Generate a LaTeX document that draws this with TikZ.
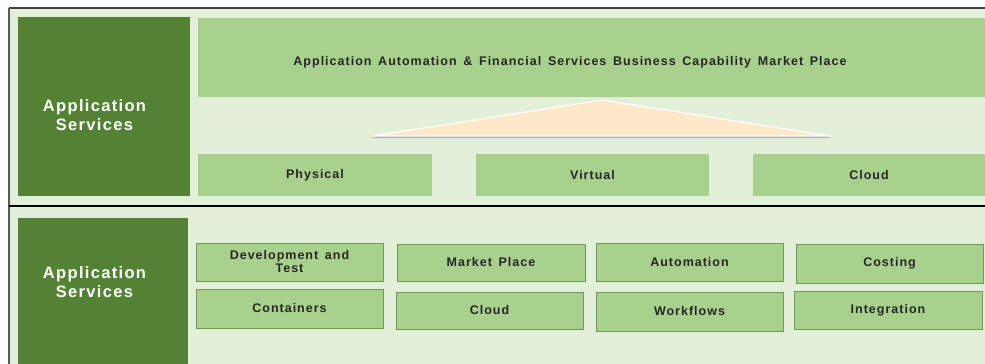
\documentclass[tikz,border=0pt]{standalone}
\usepackage{fontspec}
\setsansfont{Liberation Sans}
\newfontfamily\spacedfont[LetterSpace=8, WordSpace=1.5]{Liberation Sans}
\usetikzlibrary{positioning}

\definecolor{darkleaf}{HTML}{548235}
\definecolor{leaf}{HTML}{A9D18E}
\definecolor{paleleaf}{HTML}{E2EFD9}
\definecolor{leafline}{HTML}{6B9B4B}
\definecolor{peach}{HTML}{FDE8C8}

\tikzset{
  sidebox/.style={fill=darkleaf, anchor=north west, inner sep=0pt, outer sep=0pt},
  sidelabel/.style={text=white, align=center, inner sep=0pt,
    font=\spacedfont\bfseries\fontsize{16.5}{19}\selectfont},
  boxtext/.style={text=black!85, font=\spacedfont\bfseries\fontsize{12.5}{13}\selectfont},
  layerbox/.style={boxtext, fill=leaf, anchor=north west, inner sep=0pt, outer sep=0pt},
  servicebox/.style={layerbox, draw=leafline, line width=0.8pt, align=center},
}

\begin{document}
\begin{tikzpicture}[x=1pt, y=-1pt]
\useasboundingbox (0,0) rectangle (985,364);
% background and frame
\fill[paleleaf] (10,9) rectangle (985,364);
\draw[black!75, line width=1.5pt] (9,8) -- (985,8);
\draw[black!65, line width=1.5pt] (9,8) -- (9,364);
\draw[black, line width=1.5pt] (9,206) -- (985,206);

% top panel
\node[sidebox, minimum width=172, minimum height=179] (appTop) at (18,17) {};
\node[sidelabel] (appTopLabel) at (94.5,115) {Application\\Services};
\node[layerbox, minimum width=787, minimum height=79] (market) at (198,18) {};
\node[boxtext, inner sep=0pt] (marketLabel) at (570,62) {Application Automation \& Financial Services Business Capability Market Place};
\filldraw[gray!60, line width=1.2pt, line join=round] (373,137.5) -- (602,101.5) -- (830,137.5) -- cycle;
\filldraw[fill=peach, draw=white, line width=1.2pt, line join=round] (373,136) -- (602,100) -- (830,136) -- cycle;
\node[layerbox, minimum width=234, minimum height=42] (physical) at (198,154) {Physical};
\node[layerbox, minimum width=233, minimum height=42] (virtual) at (476,154) {Virtual};
\node[layerbox, minimum width=232, minimum height=42] (cloudTop) at (753,154) {Cloud};

% bottom panel
\node[sidebox, minimum width=170, minimum height=146] (appBot) at (18,218) {};
\node[sidelabel] (appBotLabel) at (94.5,282) {Application\\Services};
\node[servicebox, minimum width=187, minimum height=38] (devtest) at (196,243) {Development and\\Test};
\node[servicebox, minimum width=187, minimum height=39] (containers) at (196,289) {Containers};
\node[servicebox, minimum width=188, minimum height=37] (marketBot) at (397,244) {Market Place};
\node[servicebox, minimum width=187, minimum height=37] (cloudBot) at (396,292) {Cloud};
\node[servicebox, minimum width=187, minimum height=38] (automation) at (596,243) {Automation};
\node[servicebox, minimum width=187, minimum height=39] (workflows) at (596,292) {Workflows};
\node[servicebox, minimum width=187, minimum height=39] (costing) at (796,244) {Costing};
\node[servicebox, minimum width=188, minimum height=38] (integration) at (794,291) {Integration};
\end{tikzpicture}
\end{document}
